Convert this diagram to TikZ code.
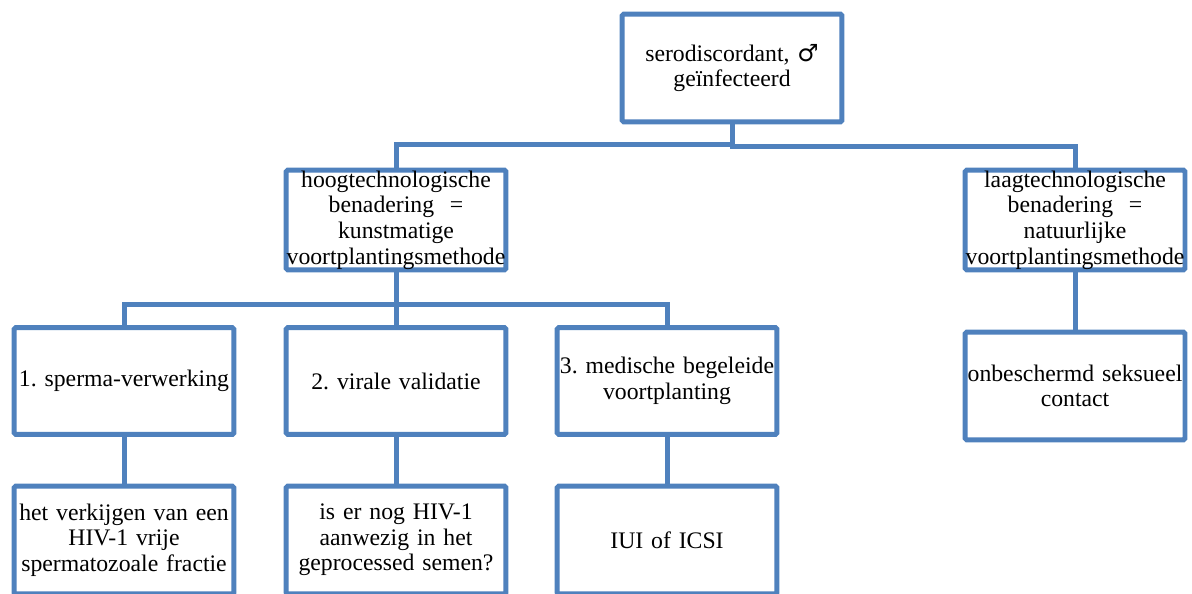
\documentclass[tikz,border=0pt]{standalone}
\usepackage{fontspec}
\setmainfont{Liberation Serif}
\newfontfamily\symb{DejaVu Sans}
\definecolor{boxblue}{RGB}{79,129,189}
\frenchspacing

\begin{document}
\begin{tikzpicture}[x=0.02cm,y=-0.02cm,
	blok/.style={draw=boxblue,line width=0.1cm,rounded corners=1pt,fill=white,
		minimum width=4.4cm,minimum height=2.16cm,text width=4.4cm,inner sep=0pt,
		align=center,font=\fontsize{13.5}{14.6}\selectfont},
	link/.style={draw=boxblue,line width=0.1cm}]
	\useasboundingbox (0,0) rectangle (1192,594);
	\clip (0,0) rectangle (1192,594);

	\node[blok] (top) at (732,68) {serodiscordant, {\symb ♂}\\ geïnfecteerd};
	\node[blok,minimum height=2cm] (hoog) at (396,220) {\raisebox{-5pt}{\parbox{4.4cm}{\centering hoogtechnologische\\ benadering ~=\\ kunstmatige\\ voortplantingsmethode}}};
	\node[blok,minimum height=2cm] (laag) at (1075,220) {\raisebox{-5pt}{\parbox{4.4cm}{\centering laagtechnologische\\ benadering ~=\\ natuurlijke\\ voortplantingsmethode}}};

	\node[blok,minimum height=2.14cm] (sperma) at (124,381) {1. sperma-verwerking};
	\node[blok,minimum height=2.14cm] (viraal) at (396,381) {2. virale validatie};
	\node[blok,minimum height=2.14cm] (mbv) at (667,381) {3. medische begeleide\\ voortplanting};
	\node[blok] (onbeschermd) at (1075,386) {onbeschermd seksueel\\ contact};

	\node[blok] (fractie) at (124,540) {het verkijgen van een\\ HIV-1 vrije\\ spermatozoale fractie};
	\node[blok] (semen) at (396,540) {is er nog HIV-1\\ aanwezig in het\\ geprocessed semen?};
	\node[blok] (icsi) at (667,540) {IUI of ICSI};

	\draw[link] (top.south) -- ++(0,20.5) -| (hoog.north);
	\draw[link] (top.south) -- ++(0,22.5) -| (laag.north);
	\draw[link] (hoog.south) -- ++(0,32.5) -| (sperma.north);
	\draw[link] (hoog.south) -- ++(0,32.5) -| (viraal.north);
	\draw[link] (hoog.south) -- ++(0,32.5) -| (mbv.north);
	\draw[link] (laag.south) -- (onbeschermd.north);
	\draw[link] (sperma) -- (fractie);
	\draw[link] (viraal) -- (semen);
	\draw[link] (mbv) -- (icsi);
\end{tikzpicture}
\end{document}
